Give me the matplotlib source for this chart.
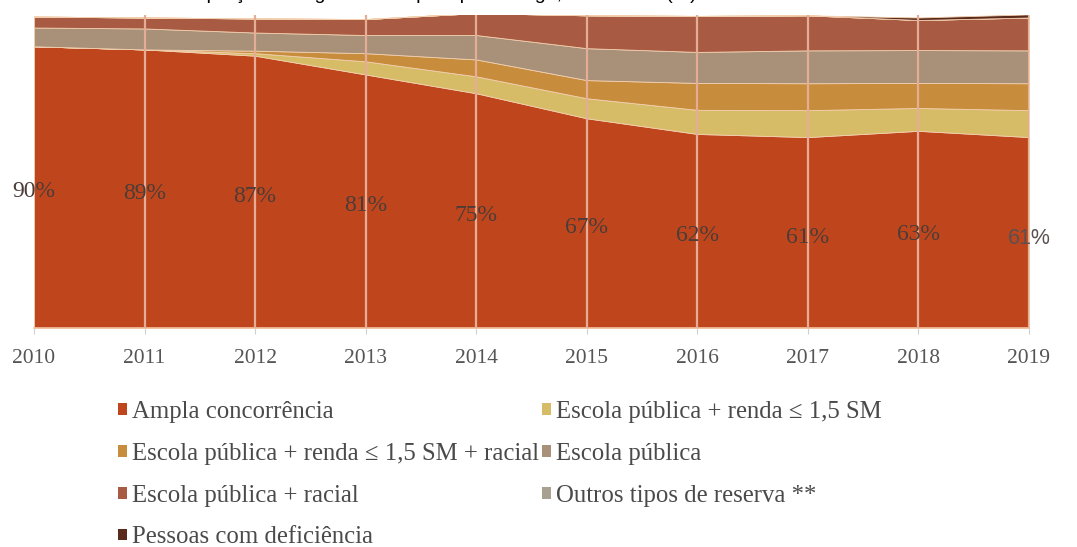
import matplotlib
matplotlib.use('Agg')
import matplotlib.pyplot as plt
from matplotlib.patches import Patch
import numpy as np

# data (percent of entrants)
years = [2010, 2011, 2012, 2013, 2014, 2015, 2016, 2017, 2018, 2019]
ampla = [90, 89, 87, 81, 75, 67, 62, 61, 63, 61]
ep_renda = [0, 0, 0.8, 4.2, 5.4, 6.4, 7.7, 8.6, 7.3, 8.6]
ep_renda_racial = [0, 0, 0.8, 2.6, 5.4, 5.8, 8.6, 8.6, 8.0, 8.6]
escola_publica = [6.0, 6.7, 5.8, 5.8, 7.8, 10.2, 9.9, 10.5, 10.5, 10.5]
ep_racial = [3.5, 3.5, 4.5, 5.1, 7.0, 10.5, 11.5, 11.2, 9.6, 10.5]
outros = [0, 0, 0, 0, 0, 0, 0, 0, 0, 0]
pcd = [0, 0, 0, 0, 0, 0, 0, 0, 0.8, 1.0]
pct_labels = ['90%', '89%', '87%', '81%', '75%', '67%', '62%', '61%', '63%', '61%']

names = ['Ampla concorrência',
         'Escola pública + renda ≤ 1,5 SM',
         'Escola pública + renda ≤ 1,5 SM + racial',
         'Escola pública',
         'Escola pública + racial',
         'Outros tipos de reserva **',
         'Pessoas com deficiência']
colors = ['#bf461c', '#d6bc66', '#c78c3c', '#a89079', '#a85a42', '#a8a090', '#5a2a1c']

fig = plt.figure(figsize=(10.77, 5.47), dpi=100)
ax = fig.add_axes([34/1077, 1-328/547, (1029-34)/1077, (328-15)/547])

ax.stackplot(years, ampla, ep_renda, ep_renda_racial, escola_publica,
             ep_racial, outros, pcd, colors=colors,
             edgecolor='#f2cfae', linewidth=0.6)

# light vertical grid drawn over the areas
for yr in years[1:]:
    ax.axvline(yr, color='#e6ad96', lw=1.6, zorder=3)

# labels for "Ampla concorrência"
for i, (yr, v) in enumerate(zip(years, ampla)):
    if i == len(years) - 1:
        ax.text(yr, v/2 - 2, pct_labels[i], ha='center', va='center',
                fontsize=15.5, color='#5a5050', family='Liberation Sans', zorder=5)
    else:
        ax.text(yr, v/2 - 1.5, pct_labels[i], ha='center', va='center',
                fontsize=17, color='#4b3c38', family='Liberation Serif', zorder=5)

ax.set_xlim(2010, 2019)
ax.set_ylim(0, 100)
ax.set_xticks(years)
ax.set_xticklabels([str(y) for y in years], family='Liberation Serif',
                   fontsize=15.5, color='#555555')
ax.set_yticks([])
for s in ['top', 'left', 'right']:
    ax.spines[s].set_visible(False)
ax.spines['bottom'].set_color('#f3c4a4')
ax.spines['bottom'].set_linewidth(1.2)
ax.tick_params(axis='x', length=4, color='#d0d0d0', pad=11)

# legend, two columns, filled row-wise like the original
handles = [Patch(facecolor=c, edgecolor='none') for c in colors]
order = [0, 2, 4, 6, 1, 3, 5]
fig.legend([handles[i] for i in order], [names[i] for i in order],
           ncol=2, loc='upper left', bbox_to_anchor=(118/1077, 1-401/547),
           frameon=False, prop={'family': 'Liberation Serif', 'size': 17.8},
           labelcolor='#4a4a4a', handlelength=0.36, handleheight=0.36,
           handletextpad=0.2, columnspacing=0.12, labelspacing=0.8,
           borderpad=0, borderaxespad=0)

# title is cut off at the top edge of the image (only descenders show)
fig.text(697/1077, 1+1/547, 'Proporção de ingressantes por tipo de vaga, 2010-2019 (%)',
         ha='right', va='baseline', fontsize=14, family='Liberation Sans', color='black')

fig.savefig('out.png', dpi=100, facecolor='white')
